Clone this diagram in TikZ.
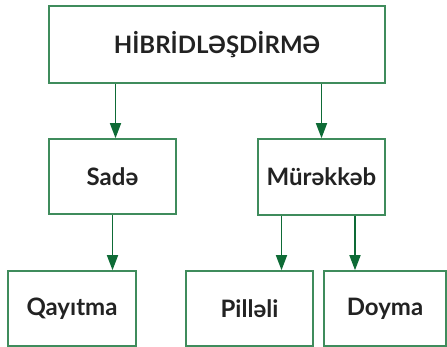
\documentclass[tikz,border=0pt]{standalone}
\usepackage{fontspec}
\setmainfont{Lato}
\usetikzlibrary{arrows.meta}
\definecolor{boxgreen}{HTML}{3F8C5C}
\definecolor{arrgreen}{HTML}{0E6B36}
\definecolor{txt}{HTML}{222222}
\tikzset{
  box/.style={draw=boxgreen, line width=1.6pt, fill=white, text=txt, font=\fontsize{24}{28}\selectfont\bfseries, inner sep=0pt},
  conn/.style={draw=arrgreen, line width=1.6pt, -{Triangle[length=15pt,width=11pt]}}
}
\begin{document}
\begin{tikzpicture}[x=1pt,y=-1pt]
\useasboundingbox (0,0) rectangle (447,347);
\node[box, minimum width=336pt, minimum height=77pt] (top) at (217,44.5) {HİBRİDLƏŞDİRMƏ};
\node[box, minimum width=127pt, minimum height=75pt] (sade) at (112.5,176.5) {Sadə};
\node[box, minimum width=127pt, minimum height=76pt] (mur) at (321.5,177) {Mürəkkəb};
\node[box, minimum width=128pt, minimum height=75pt] (qay) at (72,308.5) {Qayıtma};
\node[box, minimum width=127pt, minimum height=75pt] (pil) at (249.5,308.5) {Pilləli};
\node[box, minimum width=122pt, minimum height=75pt] (doy) at (385,308.5) {Doyma};
\draw[conn] (top.south -| sade.north) ++(3,0) coordinate (a1) -- (a1 |- sade.north);
\draw[conn] (top.south -| mur.north) coordinate (a2) -- (mur.north);
\draw[conn] (sade.south) ++(0,0) coordinate (a3) -- (a3 |- qay.north);
\draw[conn] (mur.south -| pil.north) ++(32,0) coordinate (a4) -- (a4 |- pil.north);
\draw[conn] (mur.south -| doy.north) ++(-30,0) coordinate (a5) -- (a5 |- doy.north);
\end{tikzpicture}
\end{document}
